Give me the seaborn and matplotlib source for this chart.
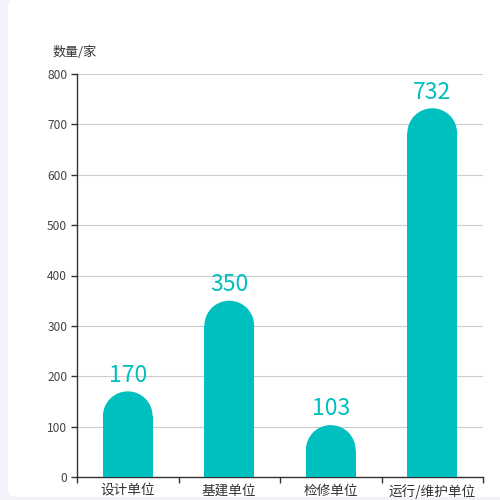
import matplotlib
matplotlib.use("Agg")
import matplotlib.pyplot as plt
import seaborn as sns
import pandas as pd
from matplotlib.patches import Rectangle, Ellipse, FancyBboxPatch

categories = ["设计单位", "基建单位", "检修单位", "运行/维护单位"]
counts = [170, 350, 103, 732]
y_ticks = [0, 100, 200, 300, 400, 500, 600, 700, 800]

bar_color = "#00bfbf"

sns.set_theme(style="white")
plt.rcParams['font.family'] = ['Noto Sans CJK SC', 'DejaVu Sans']

df = pd.DataFrame({"单位": categories, "数量": counts})

fig = plt.figure(figsize=(5, 5), dpi=100)
fig.patch.set_facecolor("#f2f3f8")
# white card with rounded left corners; right side runs off the image
card = FancyBboxPatch((8 / 500, 3 / 500), 3.0, 0.996, boxstyle="round,pad=0,rounding_size=0.016",
                      transform=fig.transFigure, facecolor="white", edgecolor="none", zorder=-5)
fig.patches.append(card)
fig.patches.append(Rectangle((0.5, 3 / 500), 1.0, 1.0, transform=fig.transFigure,
                             facecolor="white", edgecolor="none", zorder=-4))

ax = fig.add_axes([77 / 500, 23 / 500, 406 / 500, 403 / 500])
ax.set_facecolor("none")
ax.set_zorder(2)
sns.barplot(data=df, x="单位", y="数量", color=bar_color, width=0.49, ax=ax, saturation=1)

ax.set_xlim(-0.5, 3.5)
ax.set_ylim(0, 800)
ax.set_yticks(y_ticks)
ax.set_xlabel("")
ax.set_ylabel("")
ax.yaxis.grid(True, color="#cccccc", linewidth=0.8)
ax.set_axisbelow(True)

for s in ["top", "right"]:
    ax.spines[s].set_visible(False)
for s in ["left", "bottom"]:
    ax.spines[s].set_color("#333333")
    ax.spines[s].set_linewidth(1)

ax.tick_params(axis="y", which="major", left=True, length=4, width=1, color="#333333",
               labelsize=8.6, labelcolor="#444444", pad=3)
# category boundaries as ticks, labels centred between them
ax.set_xticks([-0.5, 0.5, 1.5, 2.5, 3.5])
ax.set_xticklabels([])
ax.set_xticks([0, 1, 2, 3], minor=True)
ax.set_xticklabels(categories, minor=True)
ax.tick_params(axis="x", which="major", bottom=True, length=4, width=1, color="#333333")
ax.tick_params(axis="x", which="minor", bottom=False, length=0, labelsize=9.8,
               labelcolor="#333333", pad=5)

# rounded bar tops: radius = half the bar width in pixels
fig.canvas.draw()
px_x = ax.transData.transform((1, 0))[0] - ax.transData.transform((0, 0))[0]
px_y = ax.transData.transform((0, 1))[1] - ax.transData.transform((0, 0))[1]
for p, v in zip(list(ax.patches), counts):
    x0, w = p.get_x(), p.get_width()
    ry = (w * px_x / 2) / px_y
    p.set_visible(False)
    ax.add_patch(Rectangle((x0, 0), w, v - ry, facecolor=bar_color, edgecolor="none", zorder=3))
    ax.add_patch(Ellipse((x0 + w / 2, v - ry), w, 2 * ry, facecolor=bar_color,
                         edgecolor="none", zorder=3))
    ax.annotate(str(v), (x0 + w / 2, v), xytext=(0, 7), textcoords="offset points",
                ha="center", va="baseline", fontsize=16.5, color=bar_color)

fig.text(53 / 500, 1 - 52 / 500, "数量/家", fontsize=9.4, color="#333333", va="center", ha="left")

fig.savefig("out.png", dpi=100)
